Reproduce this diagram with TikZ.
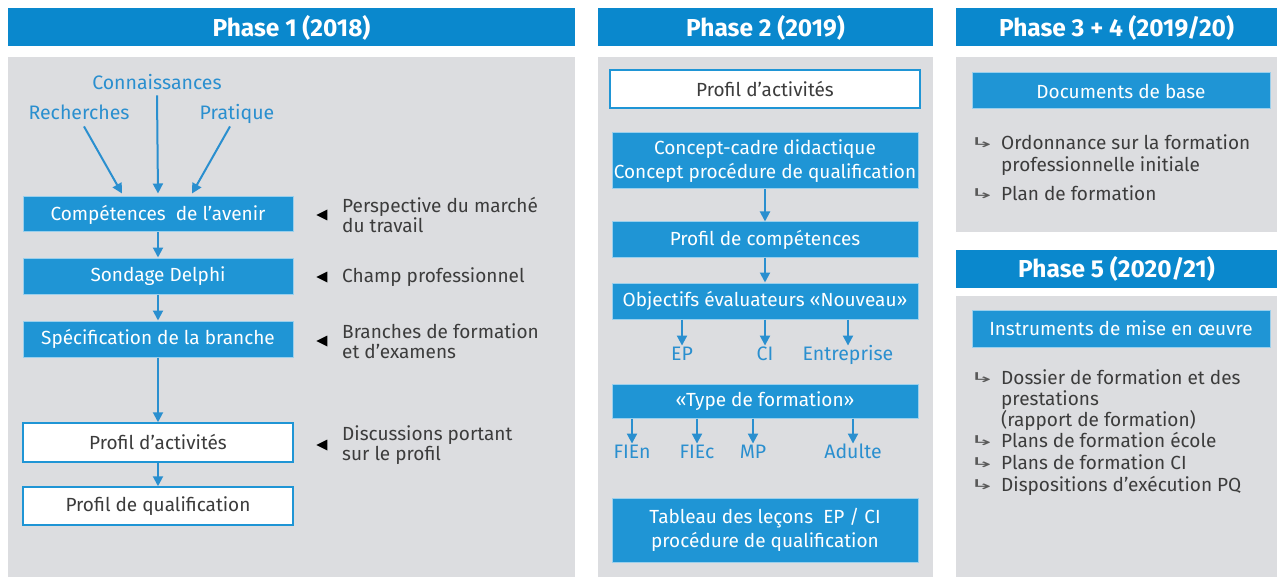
\documentclass[tikz,border=0pt]{standalone}
\usepackage{fontspec}
\setmainfont{Fira Sans}
\newfontfamily\symfont{DejaVu Sans}
\usetikzlibrary{arrows.meta,shapes.geometric,calc}
\definecolor{hdrblue}{HTML}{0A88CD}
\definecolor{boxblue}{HTML}{1F95D5}
\definecolor{panelgray}{HTML}{DCDDE0}
\definecolor{txtgray}{HTML}{3C3C3C}
\definecolor{lblblue}{HTML}{2A8FCF}
\newcommand{\hookarrow}{\scalebox{2.1}[0.9]{↳}}
\begin{document}
\begin{tikzpicture}[x=1pt,y=-1pt,
  hdr/.style={fill=hdrblue, text=white, font=\bfseries\fontsize{24.5}{28}\selectfont, minimum height=38pt, inner sep=0pt},
  panel/.style={fill=panelgray},
  bbox/.style={fill=boxblue, draw=white!55!boxblue, line width=1pt, text=white, font=\fontsize{19}{23.5}\selectfont, inner sep=0pt, align=center},
  wbox/.style={fill=white, draw=boxblue, line width=1.5pt, text=txtgray, font=\fontsize{19}{23}\selectfont, inner sep=0pt, align=center},
  lbl/.style={text=lblblue, font=\fontsize{19.5}{23}\selectfont, inner sep=1.5pt, text height=13.5pt, text depth=4pt},
  gtxt/.style={text=txtgray, font=\fontsize{19}{20.5}\selectfont, inner sep=0pt, align=left},
  itm/.style={text=txtgray, font=\fontsize{19}{21}\selectfont, inner sep=0pt, text height=13.5pt, text depth=4pt, anchor=west},
  sym/.style={text=txtgray!85, font=\symfont\fontsize{15}{17}\selectfont, inner sep=0pt},
  tri/.style={isosceles triangle, isosceles triangle apex angle=60, shape border rotate=180, fill=black, inner sep=0pt, minimum height=11pt, minimum width=11pt, isosceles triangle stretches=true},
  arr/.style={draw=lblblue, line width=2pt, -{Triangle[length=10pt,width=10pt]}}
]
\useasboundingbox[fill=white] (0,0) rectangle (1277,580);

% ---------- Phase 1 ----------
\node[hdr, minimum width=567pt] (h1) at (291.5,27.5) {Phase 1 (2018)};
\fill[panel] (8,57) rectangle (575,577);

\node[lbl] (conn) at (157,85) {Connaissances};
\node[lbl] (rech) at (79,115) {Recherches};
\node[lbl] (prat) at (237,115) {Pratique};

\node[bbox, minimum width=270pt, minimum height=35pt] (comp) at (158,214.5) {Compétences\ \ de l’avenir};
\node[bbox, minimum width=270pt, minimum height=36pt] (sond) at (158,276) {Sondage Delphi};
\node[bbox, minimum width=270pt, minimum height=36pt] (spec) at (158,339) {Spécification de la branche};
\node[wbox, minimum width=270pt, minimum height=39pt] (pact1) at (158,442.5) {Profil d’activités};
\node[wbox, minimum width=270pt, minimum height=38pt] (pqual) at (158,506) {Profil de qualification};

\draw[arr] ($(rech.south)+(5,1)$) -- ($(comp.north)+(-36,-3)$);
\draw[arr] (conn.south) -- ($(comp.north)+(0,-3)$);
\draw[arr] ($(prat.south)+(-7,1)$) -- ($(comp.north)+(34,-3)$);
\draw[arr] (comp) -- (sond);
\draw[arr] (sond) -- (spec);
\draw[arr] (spec) -- (pact1);
\draw[arr] (pact1) -- (pqual);

\node[tri] (t1) at (324,215) {};
\node[gtxt, anchor=west] (r1) at (342,215) {Perspective du marché\\du travail};
\node[tri] (t2) at (324,277) {};
\node[gtxt, anchor=west] (r2) at (342,277) {Champ professionnel};
\node[tri] (t3) at (324,341) {};
\node[gtxt, anchor=west] (r3) at (342,341) {Branches de formation\\et d’examens};
\node[tri] (t4) at (324,445) {};
\node[gtxt, anchor=west] (r4) at (342,445) {Discussions portant\\sur le profil};

% ---------- Phase 2 ----------
\node[hdr, minimum width=335pt] (h2) at (765.5,27.5) {Phase 2 (2019)};
\fill[panel] (598,57) rectangle (933,577);

\node[wbox, minimum width=310pt, minimum height=38pt] (pact2) at (765,89) {Profil d’activités};
\node[bbox, minimum width=306pt, minimum height=56pt] (conc) at (765,161) {Concept-cadre didactique\\Concept procédure de qualification};
\node[bbox, minimum width=306pt, minimum height=35pt] (pcomp) at (765,239.5) {Profil de compétences};
\node[bbox, minimum width=306pt, minimum height=36pt] (obj) at (765,301) {Objectifs évaluateurs «Nouveau»};
\draw[arr] (conc) -- (pcomp);
\draw[arr] (pcomp) -- (obj);

\node[lbl] (ep) at (682,356) {EP};
\node[lbl] (ci) at (765,356) {CI};
\node[lbl] (ent) at (848,356) {Entreprise};
\draw[arr] (obj.south -| ep) -- (ep.north);
\draw[arr] (obj.south -| ci) -- (ci.north);
\draw[arr] (obj.south -| ent) -- (ent.north);

\node[bbox, minimum width=306pt, minimum height=34pt] (typ) at (765,401) {«Type de formation»};
\node[lbl] (fien) at (632,454) {FIEn};
\node[lbl] (fiec) at (697,454) {FIEc};
\node[lbl] (mp) at (753,454) {MP};
\node[lbl] (adu) at (853,454) {Adulte};
\draw[arr] (typ.south -| fien) -- (fien.north);
\draw[arr] (typ.south -| fiec) -- (fiec.north);
\draw[arr] (typ.south -| mp) -- (mp.north);
\draw[arr] (typ.south -| adu) -- (adu.north);

\node[bbox, minimum width=306pt, minimum height=64pt] (tab) at (765,530) {Tableau des leçons\ \ EP / CI\\procédure de qualification};

% ---------- Phase 3 + 4 ----------
\node[hdr, minimum width=321pt] (h3) at (1116.5,27.5) {Phase 3 + 4 (2019/20)};
\fill[panel] (956,57) rectangle (1277,232);
\node[bbox, minimum width=298pt, minimum height=36pt] (docs) at (1121,91) {Documents de base};

\node[sym] (s1) at (982,143) {\hookarrow};
\node[itm] (i1) at (1001,145) {Ordonnance sur la formation};
\node[itm] (i1b) at (1001,167) {professionnelle initiale};
\node[sym] (s2) at (982,194) {\hookarrow};
\node[itm] (i2) at (1001,196) {Plan de formation};

% ---------- Phase 5 ----------
\node[hdr, minimum width=321pt] (h5) at (1116.5,268.5) {Phase 5 (2020/21)};
\fill[panel] (956,296) rectangle (1277,577);
\node[bbox, minimum width=298pt, minimum height=37pt] (inst) at (1121,328.5) {Instruments de mise en œuvre};

\node[sym] (s3) at (982,378) {\hookarrow};
\node[itm] (j1) at (1001,380) {Dossier de formation et des};
\node[itm] (j1b) at (1001,401) {prestations};
\node[itm] (j1c) at (1001,422) {(rapport de formation)};
\node[sym] (s4) at (982,441) {\hookarrow};
\node[itm] (j2) at (1001,443) {Plans de formation école};
\node[sym] (s5) at (982,463) {\hookarrow};
\node[itm] (j3) at (1001,465) {Plans de formation CI};
\node[sym] (s6) at (982,485) {\hookarrow};
\node[itm] (j4) at (1001,487) {Dispositions d’exécution PQ};
\end{tikzpicture}
\end{document}
